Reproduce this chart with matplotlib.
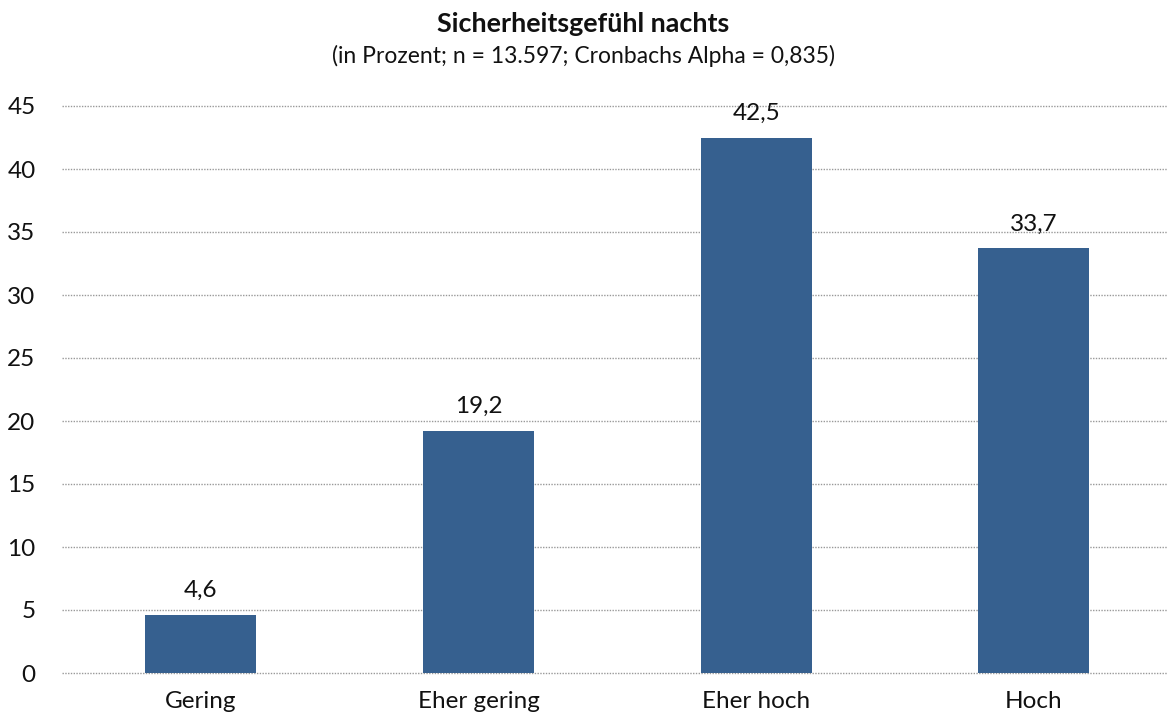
import matplotlib.pyplot as plt

categories = ['Gering', 'Eher gering', 'Eher hoch', 'Hoch']
values = [4.6, 19.2, 42.5, 33.7]
y_ticks = [0, 5, 10, 15, 20, 25, 30, 35, 40, 45]

plt.rcParams['font.family'] = ['Lato', 'DejaVu Sans']

fig = plt.figure(figsize=(11.67, 7.22), dpi=100)
ax = fig.add_axes([62 / 1167, 1 - 673 / 722, (1167 - 62) / 1167, (673 - 106) / 722])

x = range(len(categories))
ax.bar(x, values, width=0.4, color='#36608f', zorder=3)

for xi, v in zip(x, values):
    ax.text(xi, v + 1.1, f'{v:.1f}'.replace('.', ','), ha='center', va='bottom',
            fontsize=17.5, color='#111111')

ax.set_ylim(0, 45)
ax.set_xlim(-0.5, 3.48)
ax.set_yticks(y_ticks)
ax.set_yticklabels([str(t) for t in y_ticks], fontsize=17.5)
ax.set_xticks(list(x))
ax.set_xticklabels(categories, fontsize=17.5)
ax.tick_params(axis='both', length=0, colors='#111111')
ax.tick_params(axis='x', pad=13)
ax.tick_params(axis='y', pad=19)

ax.grid(axis='y', color='#999999', linestyle=(0, (1, 1)), linewidth=1, zorder=0)
# keep the gridlines at 0 and 45 from being cut in half at the axes edge
for gl in ax.yaxis.get_gridlines():
    gl.set_clip_on(False)
for s in ax.spines.values():
    s.set_visible(False)

fig.text(0.5, 1 - 24 / 722, 'Sicherheitsgefühl nachts', ha='center', va='center',
         fontsize=19.4, fontweight='bold', color='#111111')
fig.text(0.5, 1 - 56 / 722, '(in Prozent; n = 13.597; Cronbachs Alpha = 0,835)',
         ha='center', va='center', fontsize=16.5, color='#111111')

fig.savefig('out.png', dpi=100)
